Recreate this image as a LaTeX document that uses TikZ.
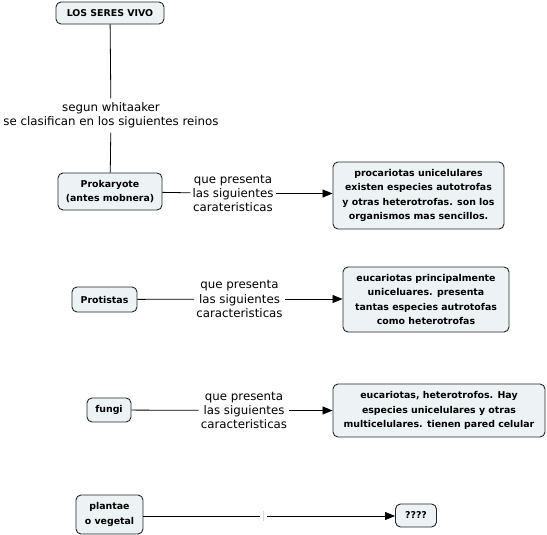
\documentclass[tikz,border=0pt]{standalone}
\usepackage{fontspec}
\setmainfont{DejaVu Sans}
\usetikzlibrary{arrows.meta}
\definecolor{boxfill}{RGB}{237,243,245}
\tikzset{
  concept/.style={draw=black!85, line width=0.9pt, fill=boxfill, rounded corners=5pt,
    align=center, inner sep=1pt, font=\bfseries\fontsize{9.4}{14.2}\selectfont},
  linklabel/.style={align=center, inner sep=2pt, font=\fontsize{11.8}{14.2}\selectfont},
  conn/.style={line width=0.8pt, draw=black},
  arr/.style={conn, -{Triangle[length=10pt,width=8pt]}}
}
\begin{document}
\begin{tikzpicture}[x=1pt,y=-1pt]
\useasboundingbox (0,0) rectangle (547,535);
% concepts
\node[concept, minimum width=108pt, minimum height=22pt] (seres) at (110,13) {LOS SERES VIVO};
\node[concept, minimum width=104pt, minimum height=37pt] (prok) at (110,191.5) {Prokaryote\\(antes mobnera)};
\node[concept, minimum width=171pt, minimum height=67pt] (proc) at (418.5,195.5) {procariotas unicelulares\\existen especies autotrofas\\y otras heterotrofas. son los\\organismos mas sencillos.};
\node[concept, minimum width=65pt, minimum height=25pt] (prot) at (104.5,299.5) {Protistas};
\node[concept, minimum width=166pt, minimum height=65pt] (euc1) at (426,299.5) {eucariotas principalmente\\uniceluares. presenta\\tantas especies autrotofas\\como heterotrofas};
\node[concept, minimum width=44pt, minimum height=24pt] (fungi) at (109,410) {fungi};
\node[concept, minimum width=212pt, minimum height=53pt] (euc2) at (439,410.5) {eucariotas, heterotrofos. Hay\\especies unicelulares y otras\\multicelulares. tienen pared celular};
\node[concept, minimum width=67pt, minimum height=39pt] (plant) at (109.5,514.5) {plantae\\o vegetal};
\node[concept, minimum width=41pt, minimum height=23pt] (q) at (416,515.5) {????};
% link labels
\node[linklabel, inner sep=4pt] (l0) at (111,115.5) {segun whitaaker\\se clasifican en los siguientes reinos};
\node[linklabel] (l1) at (233,193.5) {que presenta\\las siguientes\\carateristicas};
\node[linklabel] (l2) at (239.5,299) {que presenta\\las siguientes\\caracteristicas};
\node[linklabel] (l3) at (244,410.5) {que presenta\\las siguientes\\caracteristicas};
\coordinate (l4a) at (259.5,516);
\coordinate (l4b) at (266.5,516);
\draw[draw=black!15, line width=0.5pt] (263,511) -- (263,521);
% connectors
\draw[conn] (seres) -- (l0);
\draw[conn] (l0) -- (prok);
\draw[conn] (prok) -- (l1);
\draw[arr] (l1) -- (proc.west |- l1);
\draw[conn] (prot) -- (l2);
\draw[arr] (l2) -- (euc1.west |- l2);
\draw[conn] (fungi) -- (l3);
\draw[arr] (l3) -- (euc2.west |- l3);
\draw[conn] (plant.east |- l4a) -- (l4a);
\draw[arr] (l4b) -- (q.west |- l4b);
\end{tikzpicture}
\end{document}
